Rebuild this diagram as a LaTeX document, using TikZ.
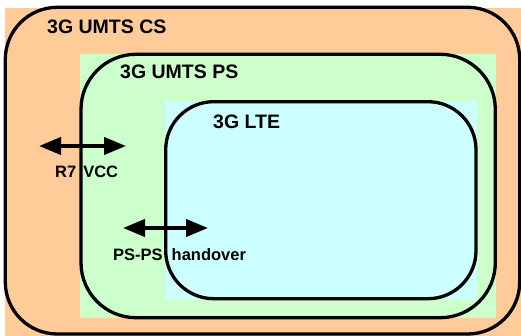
\documentclass[tikz,border=0pt]{standalone}
\usepackage{fontspec}
\setmainfont{Liberation Sans}
\usetikzlibrary{arrows.meta}
\definecolor{peach}{HTML}{FFCC99}
\definecolor{mint}{HTML}{CCFFCC}
\definecolor{aqua}{HTML}{CCFFFF}
\tikzset{
  border/.style={draw=black, line width=3.3pt, rounded corners=#1},
  title/.style={anchor=west, inner sep=0pt, font=\fontsize{19.5}{22}\selectfont\bfseries},
  lbl/.style={anchor=west, inner sep=0pt, font=\fontsize{16.5}{19}\selectfont\bfseries},
  dbl/.style={line width=4pt, {Triangle[length=22pt,width=17pt]}-{Triangle[length=22pt,width=17pt]}}
}
\begin{document}
\begin{tikzpicture}[x=1pt,y=-1pt]
\useasboundingbox (0,0) rectangle (521,336);
% fills and borders
\fill[peach] (5,8) rectangle (521,336);
\draw[border=52pt] (5.3,7.3) rectangle (519.7,334);
\fill[mint] (80,54.5) rectangle (495.5,318);
\draw[border=55pt] (81,54.3) rectangle (495.3,317.7);
\fill[aqua] (165,101) rectangle (477,300);
\draw[border=48pt] (165.7,101.7) rectangle (476,298.7);
% labels
\node[title] (cs) at (47,27) {3G UMTS CS};
\node[title] (ps) at (120,72) {3G UMTS PS};
\node[title] (lte) at (213,122) {3G LTE};
\node[lbl] (vcc) at (55,172) {R7\hspace{7pt}VCC};
\node[lbl] (ho) at (113,255) {PS-PS\hspace{9pt}handover};
% arrows
\coordinate (a1) at (39,146);
\coordinate (b1) at (126,146);
\coordinate (a2) at (123,228);
\coordinate (b2) at (208,228);
\draw[dbl] (a1) -- (b1);
\draw[dbl] (a2) -- (b2);
\end{tikzpicture}
\end{document}
